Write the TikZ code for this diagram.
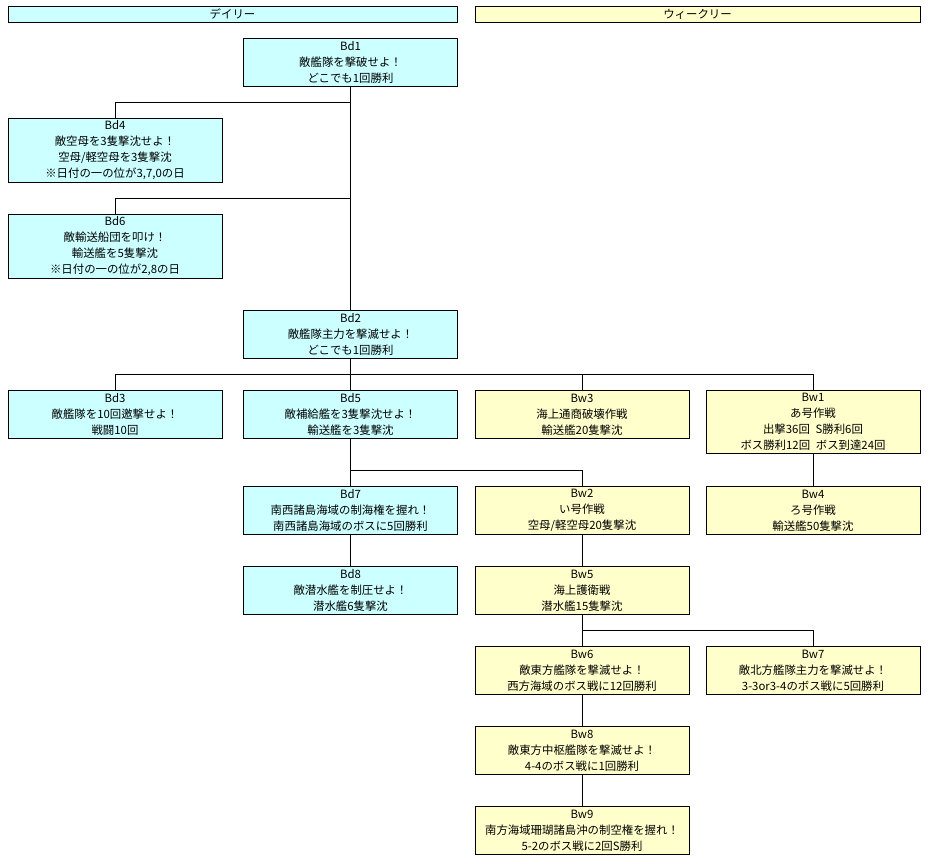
\documentclass[tikz,border=0pt]{standalone}
\usepackage{fontspec}
\setmainfont{Noto Sans CJK JP}
\usepackage{tikz}
\usetikzlibrary{positioning, calc}

\definecolor{dailyfill}{HTML}{CCFFFF}
\definecolor{weeklyfill}{HTML}{FFFFCC}

\begin{document}
\begin{tikzpicture}[x=1pt, y=-1pt, line width=0.8pt,
    font=\fontsize{11.4}{16}\selectfont,
    box/.style={draw, align=center, minimum width=214pt, minimum height=48pt, inner sep=0pt, anchor=north},
    daily/.style={box, fill=dailyfill},
    weekly/.style={box, fill=weeklyfill},
    tallbox/.style={minimum height=64pt},
    header/.style={draw, minimum height=16pt, inner sep=0pt}]
    \useasboundingbox (0,0) rectangle (930,865);

    % Headers
    \node[header, fill=dailyfill, minimum width=449pt] (daily) at (232.5,14) {デイリー};
    \node[header, fill=weeklyfill, minimum width=445pt] (weekly) at (697.5,14) {ウィークリー};

    % Daily quests
    \node[daily] (bd1) at (350.5,38) {Bd1\\敵艦隊を撃破せよ！\\どこでも1回勝利};
    \node[daily, tallbox] (bd4) at (115,118) {Bd4\\敵空母を3隻撃沈せよ！\\空母/軽空母を3隻撃沈\\※日付の一の位が3,7,0の日};
    \node[daily, tallbox] (bd6) at (115,214) {Bd6\\敵輸送船団を叩け！\\輸送艦を5隻撃沈\\※日付の一の位が2,8の日};
    \node[daily] (bd2) at (350.5,310) {Bd2\\敵艦隊主力を撃滅せよ！\\どこでも1回勝利};
    \node[daily] (bd3) at (115,390) {Bd3\\敵艦隊を10回邀撃せよ！\\戦闘10回};
    \node[daily] (bd5) at (350.5,390) {Bd5\\敵補給艦を3隻撃沈せよ！\\輸送艦を3隻撃沈};
    \node[daily] (bd7) at (350.5,486) {Bd7\\南西諸島海域の制海権を握れ！\\南西諸島海域のボスに5回勝利};
    \node[daily] (bd8) at (350.5,566) {Bd8\\敵潜水艦を制圧せよ！\\潜水艦6隻撃沈};

    % Weekly quests
    \node[weekly] (bw3) at (582,390) {Bw3\\海上通商破壊作戦\\輸送艦20隻撃沈};
    \node[weekly, minimum height=63pt] (bw1) at (813,390) {Bw1\\あ号作戦\\出撃36回\enspace S勝利6回\\ボス勝利12回\enspace ボス到達24回};
    \node[weekly] (bw2) at (582,486) {Bw2\\い号作戦\\空母/軽空母20隻撃沈};
    \node[weekly] (bw4) at (813,486) {Bw4\\ろ号作戦\\輸送艦50隻撃沈};
    \node[weekly] (bw5) at (582,566) {Bw5\\海上護衛戦\\潜水艦15隻撃沈};
    \node[weekly] (bw6) at (582,646) {Bw6\\敵東方艦隊を撃滅せよ！\\西方海域のボス戦に12回勝利};
    \node[weekly] (bw7) at (813,646) {Bw7\\敵北方艦隊主力を撃滅せよ！\\3-3or3-4のボス戦に5回勝利};
    \node[weekly] (bw8) at (582,726) {Bw8\\敵東方中枢艦隊を撃滅せよ！\\4-4のボス戦に1回勝利};
    \node[weekly] (bw9) at (582,806) {Bw9\\南方海域珊瑚諸島沖の制空権を握れ！\\5-2のボス戦に2回S勝利};

    % Connectors
    \draw (bd4.north) -- ++(0,-16) -| (bd1.south);
    \draw (bd6.north) -- ++(0,-16) -| (bd1.south);
    \draw (bd2.north) -- (bd1.south);
    \draw (bd3.north) -- ++(0,-16) -| (bd2.south);
    \draw (bd5.north) -- (bd2.south);
    \draw (bw3.north) -- ++(0,-16) -| (bd2.south);
    \draw (bw1.north) -- ++(0,-16) -| (bd2.south);
    \draw (bd7.north) -- (bd5.south);
    \draw (bw2.north) -- ++(0,-16) -| (bd5.south);
    \draw (bd8.north) -- (bd7.south);
    \draw (bw4.north) -- (bw1.south);
    \draw (bw5.north) -- (bw2.south);
    \draw (bw6.north) -- (bw5.south);
    \draw (bw7.north) -- ++(0,-16) -| (bw5.south);
    \draw (bw8.north) -- (bw6.south);
    \draw (bw9.north) -- (bw8.south);
\end{tikzpicture}
\end{document}
